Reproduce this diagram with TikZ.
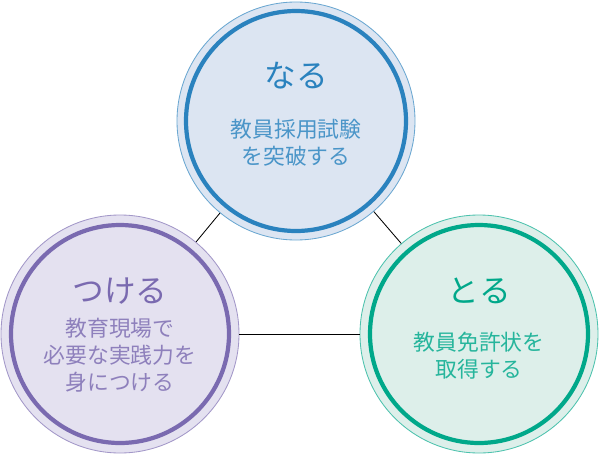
\documentclass[tikz,border=0pt]{standalone}
\usepackage{fontspec}
\setmainfont{Noto Sans CJK JP}
\definecolor{naruring}{RGB}{42,130,190}
\definecolor{narufill}{RGB}{220,229,242}
\definecolor{tsukering}{RGB}{122,106,176}
\definecolor{tsukefill}{RGB}{228,225,240}
\definecolor{toruring}{RGB}{0,168,138}
\definecolor{torufill}{RGB}{221,239,234}
\tikzset{
  goal/.style={circle, minimum size=238*0.025cm, inner sep=0pt, fill=#1fill, draw=#1ring!70, line width=0.6pt},
  ring/.style={draw=#1ring, line width=3pt},
  title/.style={text=#1ring, font=\fontsize{22.5}{26}\selectfont},
  sub/.style={text=#1ring!85, align=center, font=\fontsize{15.5}{19.4}\selectfont}
}
\begin{document}
\begin{tikzpicture}[x=0.025cm, y=-0.025cm]
    \useasboundingbox (0,0) rectangle (600,455);
    % --- circles ---
    \node[goal=naru] (naru) at (296,121) {};
    \node[goal=tsuke] (tsuke) at (120,334) {};
    \node[goal=toru] (toru) at (479,334) {};
    \draw[ring=naru] (naru.center) circle (110);
    \draw[ring=tsuke] (tsuke.center) circle (109);
    \draw[ring=toru] (toru.center) circle (109);

    % links
    \draw[black, line width=0.6pt] (naru) -- (tsuke); \draw[black, line width=0.6pt] (naru) -- (toru);
    \draw[black, line width=0.6pt] (tsuke) -- (toru);

    % --- texts ---
    \node[title=naru] (naruT) at (296,76) {なる};
    \node[sub=naru] (naruS) at (296,143) {教員採用試験\\を突破する};
    \node[title=tsuke] (tsukeT) at (120,291) {つける};
    \node[sub=tsuke] (tsukeS) at (120,355) {教育現場で\\必要な実践力を\\身につける};
    \node[title=toru] (toruT) at (479,291) {とる};
    \node[sub=toru] (toruS) at (479,356) {教員免許状を\\取得する};
\end{tikzpicture}
\end{document}
